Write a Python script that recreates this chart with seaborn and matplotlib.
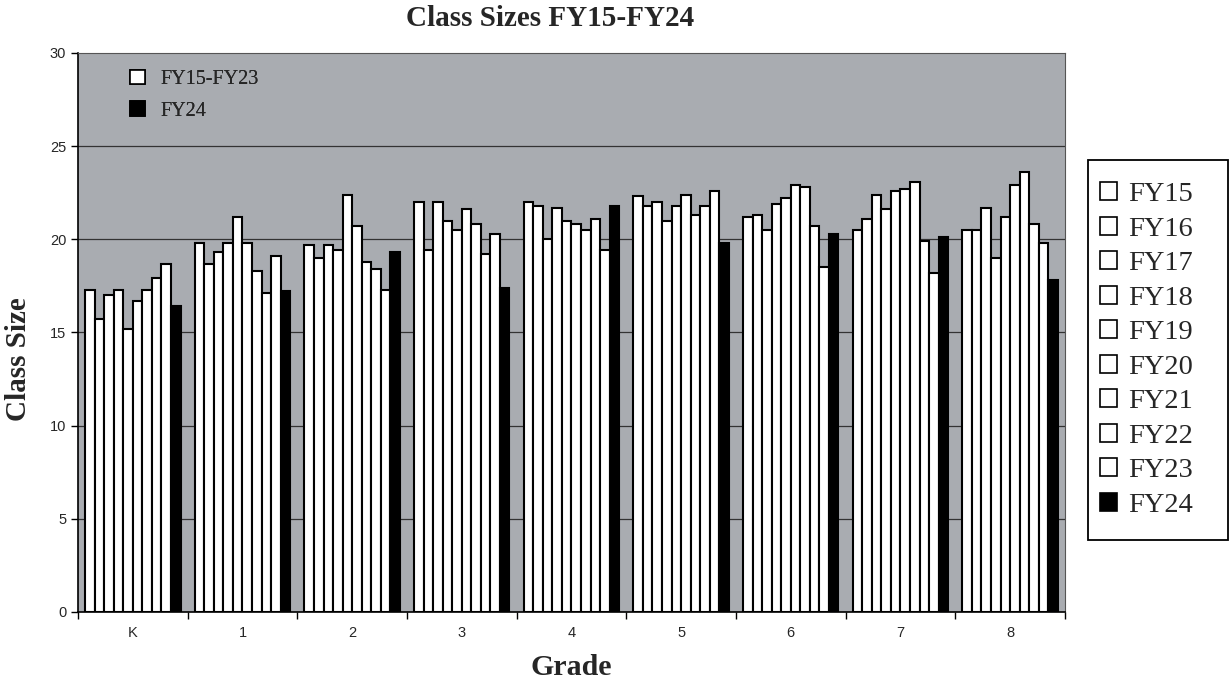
import numpy as np
import pandas as pd
import matplotlib.pyplot as plt
import seaborn as sns
from matplotlib.patches import Patch, Rectangle

# values, one list per grade (FY15 ... FY24)
grades = ['K', '1', '2', '3', '4', '5', '6', '7', '8']
years = ['FY15', 'FY16', 'FY17', 'FY18', 'FY19',
         'FY20', 'FY21', 'FY22', 'FY23', 'FY24']

k_sizes = [17.3, 15.7, 17.0, 17.3, 15.2, 16.7, 17.3, 17.9, 18.7, 16.4]
g1_sizes = [19.8, 18.7, 19.3, 19.8, 21.2, 19.8, 18.3, 17.1, 19.1, 17.2]
g2_sizes = [19.7, 19.0, 19.7, 19.4, 22.4, 20.7, 18.8, 18.4, 17.3, 19.3]
g3_sizes = [22.0, 19.4, 22.0, 21.0, 20.5, 21.6, 20.8, 19.2, 20.3, 17.4]
g4_sizes = [22.0, 21.8, 20.0, 21.7, 21.0, 20.8, 20.5, 21.1, 19.4, 21.8]
g5_sizes = [22.3, 21.8, 22.0, 21.0, 21.8, 22.4, 21.3, 21.8, 22.6, 19.8]
g6_sizes = [21.2, 21.3, 20.5, 21.9, 22.2, 22.9, 22.8, 20.7, 18.5, 20.3]
g7_sizes = [20.5, 21.1, 22.4, 21.6, 22.6, 22.7, 23.1, 19.9, 18.2, 20.1]
g8_sizes = [20.5, 20.5, 21.7, 19.0, 21.2, 22.9, 23.6, 20.8, 19.8, 17.8]

all_sizes = [k_sizes, g1_sizes, g2_sizes, g3_sizes, g4_sizes,
             g5_sizes, g6_sizes, g7_sizes, g8_sizes]

rows = []
for g, vals in zip(grades, all_sizes):
    for y, v in zip(years, vals):
        rows.append({'grade': g, 'year': y, 'size': v})
df = pd.DataFrame(rows)

sns.set_style('white')
plt.rcParams['font.family'] = ['Liberation Sans', 'DejaVu Sans']
serif = ['Liberation Serif', 'DejaVu Serif']

fig = plt.figure(figsize=(12.3, 6.79), dpi=100)
ax = fig.add_axes([0.0634, 0.0987, 0.8024, 0.8233])
ax.set_facecolor('#a9acb1')

bar_colors = ['white'] * 9 + ['black']
sns.barplot(data=df, x='grade', y='size', hue='year', order=grades,
            hue_order=years, palette=bar_colors, edgecolor='black',
            linewidth=1.5, width=0.87, gap=0, legend=False, ax=ax,
            zorder=3)

ax.set_ylim(0, 30)
ax.set_xlim(-0.5, 8.5)
ax.set_yticks(np.arange(0, 31, 5))
ax.grid(False)
for yv in [5, 10, 15, 20, 25]:
    ax.axhline(yv, color='#333333', lw=0.9, zorder=1)

# ticks at group borders, labels at centres
ax.set_xticks(np.arange(-0.5, 9, 1))
ax.set_xticklabels([])
ax.set_xticks(np.arange(9), minor=True)
ax.set_xticklabels(grades, minor=True, fontsize=10.5)
ax.tick_params(axis='x', which='major', length=5, width=1, direction='out',
               color='black', bottom=True)
ax.tick_params(axis='x', which='minor', length=0, pad=10)
ax.tick_params(axis='y', length=5, width=1, direction='out', color='black',
               labelsize=10.5, left=True)

for side in ['left', 'bottom']:
    ax.spines[side].set_color('black')
    ax.spines[side].set_linewidth(1.2)
for side in ['top', 'right']:
    ax.spines[side].set_color('#555555')
    ax.spines[side].set_linewidth(0.8)

fig.text(550 / 1230, 1 - 19 / 679, 'Class Sizes FY15-FY24', family=serif,
         fontweight='bold', fontsize=21, ha='center', va='center')
ax.set_xlabel('Grade', family=serif, fontweight='bold', fontsize=21.5)
ax.set_ylabel('Class Size', family=serif, fontweight='bold', fontsize=21)
ax.xaxis.set_label_coords(0.5, -0.075)
ax.yaxis.set_label_coords(-0.047, 0.4526)

# inner legend
inner = [Patch(facecolor='white', edgecolor='black', lw=1.2, label='FY15-FY23'),
         Patch(facecolor='black', edgecolor='black', lw=1.2, label='FY24')]
leg1 = ax.legend(handles=inner, loc='upper left',
                 bbox_to_anchor=(0.0527, 0.97), frameon=False,
                 prop={'family': serif, 'size': 14.5}, handlelength=0.75,
                 handleheight=0.75, labelspacing=0.6, handletextpad=0.75,
                 borderpad=0, borderaxespad=0)
ax.add_artist(leg1)

# outer legend with its own box
fig.patches.append(Rectangle((1088 / 1230, 1 - 540 / 679), 140 / 1230,
                             380 / 679, transform=fig.transFigure,
                             fill=False, edgecolor='black', lw=1.3))
outer = [Patch(facecolor=c, edgecolor='black', lw=1.2, label=y)
         for c, y in zip(bar_colors, years)]
fig.legend(handles=outer, loc='center left',
           bbox_to_anchor=(1100 / 1230, 1 - 350 / 679), frameon=False,
           prop={'family': serif, 'size': 20.5}, handlelength=0.6,
           handleheight=0.6, labelspacing=0.33, handletextpad=0.4,
           borderpad=0, borderaxespad=0)

fig.savefig('out.png', dpi=100, facecolor='white')
